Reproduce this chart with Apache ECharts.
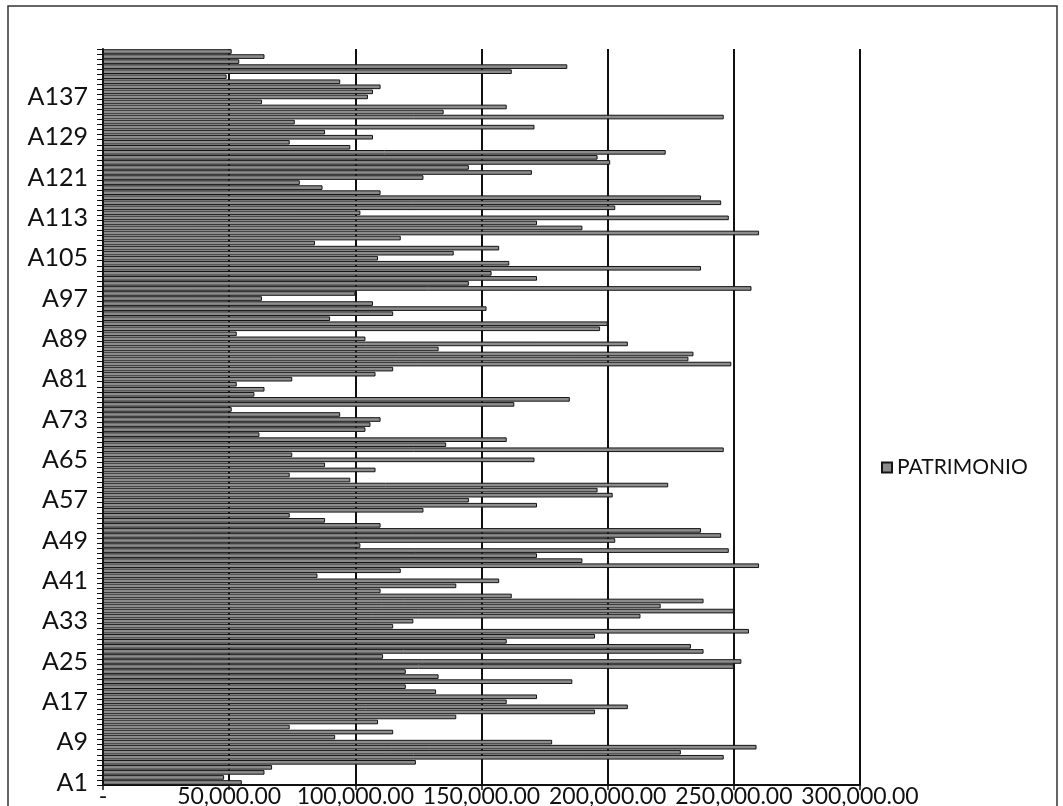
<!DOCTYPE html>
<html>
<head>
<meta charset="utf-8">
<script src="https://cdn.jsdelivr.net/npm/echarts@6/dist/echarts.min.js"></script>
<style>
  html, body { margin: 0; padding: 0; background: #fff; }
  #chart { width: 1063px; height: 806px; }
</style>
</head>
<body>
<div id="chart"></div>
<script>
// values, top bar first (in thousands)
var valuesTopDown = [
    51, 64, 54, 184, 162, 49, 94, 110, 107, 105, 63, 160,
    135, 246, 76, 171, 88, 107, 74, 98, 223, 196, 201, 145,
    170, 127, 78, 87, 110, 237, 245, 203, 102, 248, 172, 190, 260,
    118, 84, 157, 139, 109, 161, 237, 154, 172, 145, 257, 100, 63,
    107, 152, 115, 90, 200, 197, 53, 104, 208, 133, 234,
    232, 249, 115, 108, 75, 53, 64, 60, 185, 163, 51, 94,
    110, 106, 104, 62, 160, 136, 246, 75, 171, 88, 108, 74, 98,
    224, 196, 202, 145, 172, 127, 74, 88, 110, 237, 245, 203,
    102, 248, 172, 190, 260, 118, 85, 157, 140, 110, 162, 238, 221,
    250, 213, 123, 115, 256, 195, 160, 233, 238, 111, 253, 250,
    120, 133, 186, 120, 132, 172, 160, 208, 195, 140, 109, 74, 115, 92, 178, 259, 229,
    246, 124, 67, 64, 48, 55
];
var patrimonio = valuesTopDown.slice().reverse().map(function (v) { return v * 1000; });
var categories = [];
for (var i = 0; i < patrimonio.length; i++) {
    categories.push('A' + (i + 1));
}
var xTicks = [0, 50000, 100000, 150000, 200000, 250000, 300000];

var font = 'Lato';

var option = {
    animation: false,
    backgroundColor: '#fff',
    graphic: [
        {
            type: 'rect',
            shape: {x: 8, y: 6, width: 1049, height: 830},
            style: {fill: 'none', stroke: '#333', lineWidth: 1.5},
            silent: true
        }
    ],
    legend: {
        data: ['PATRIMONIO'],
        left: 876,
        top: 452,
        orient: 'vertical',
        itemWidth: 10,
        itemHeight: 10,
        icon: 'rect',
        textStyle: {fontFamily: font, fontSize: 21, color: '#111'}
    },
    grid: {
        left: 103,
        right: 203,
        top: 49,
        bottom: 21,
        containLabel: false,
        outerBoundsMode: 'none'
    },
    xAxis: {
        type: 'value',
        min: xTicks[0],
        max: xTicks[xTicks.length - 1],
        interval: 50000,
        axisLine: {show: true, lineStyle: {color: '#111', width: 2}},
        axisTick: {show: true, length: 5, lineStyle: {color: '#111', width: 1.5}},
        splitLine: {show: true, lineStyle: {color: '#111', width: 2}},
        axisLabel: {
            margin: 0,
            fontFamily: font,
            fontSize: 23,
            color: '#111',
            formatter: function (v) {
                if (v === 0) return '-';
                return v.toLocaleString('en-US', {minimumFractionDigits: 2, maximumFractionDigits: 2});
            }
        }
    },
    yAxis: {
        type: 'category',
        data: categories,
        axisLine: {show: true, lineStyle: {color: '#111', width: 2}},
        axisTick: {show: true, interval: 0, length: 6, lineStyle: {color: '#111', width: 1}},
        axisLabel: {
            // every 8th label, as in the scan (none above A137)
            interval: function (idx) {
                return idx % 8 === 0 && idx <= 136;
            },
            margin: 15,
            fontFamily: font,
            fontSize: 25,
            color: '#111'
        }
    },
    series: [
        {
            name: 'PATRIMONIO',
            type: 'bar',
            data: patrimonio,
            barCategoryGap: '8%',
            itemStyle: {
                color: '#8c8c8c',
                borderColor: '#151515',
                borderWidth: 1
            }
        }
    ]
};

var myChart = echarts.init(document.getElementById('chart'));
myChart.setOption(option);
</script>
</body>
</html>
